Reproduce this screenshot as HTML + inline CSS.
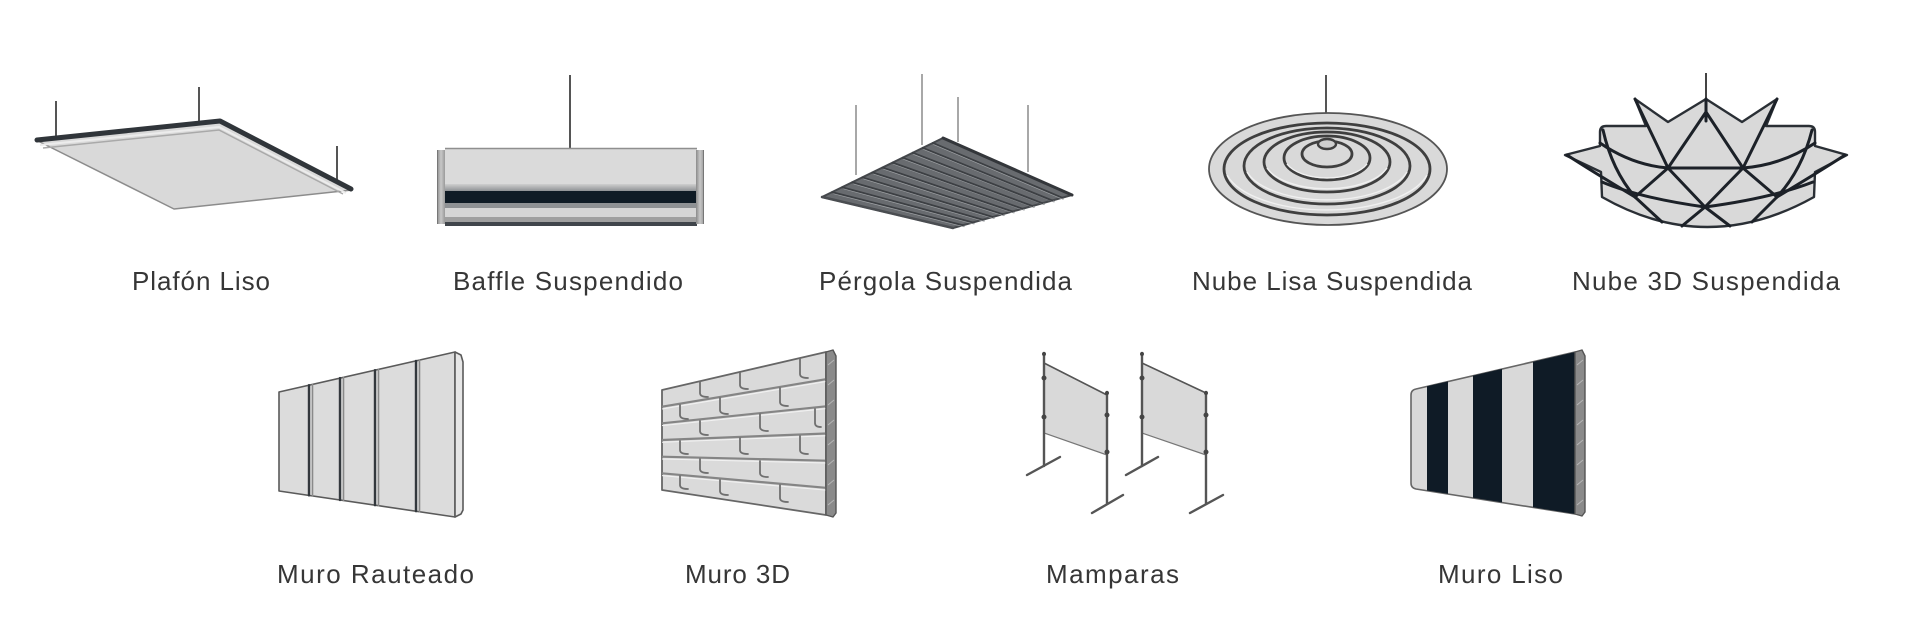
<!DOCTYPE html>
<html>
<head>
<meta charset="utf-8">
<style>
  html,body{margin:0;padding:0;background:#ffffff;}
  body{width:1920px;height:640px;overflow:hidden;}
  svg{display:block;}
  .lbl{font-family:"Liberation Sans",Arial,sans-serif;font-size:26px;fill:#363636;}
</style>
</head>
<body>
<svg width="1920" height="640" viewBox="0 0 1920 640" xmlns="http://www.w3.org/2000/svg">
  <defs>
    <linearGradient id="bafband" x1="0" y1="0" x2="0" y2="1">
      <stop offset="0" stop-color="#cfcfcf"/>
      <stop offset="1" stop-color="#8f9295"/>
    </linearGradient>
    <linearGradient id="capg" x1="0" y1="0" x2="1" y2="0">
      <stop offset="0" stop-color="#8a8a8a"/>
      <stop offset="0.5" stop-color="#c8c8c8"/>
      <stop offset="1" stop-color="#9a9a9a"/>
    </linearGradient>
  </defs>

  <!-- ============ Plafón Liso ============ -->
  <g>
    <line x1="56" y1="101" x2="56" y2="138" stroke="#555" stroke-width="2"/>
    <line x1="199" y1="87" x2="199" y2="124" stroke="#555" stroke-width="2"/>
    <line x1="337" y1="146" x2="337" y2="184" stroke="#555" stroke-width="2"/>
    <polygon points="36,140 220,121 352,190 174,209" fill="#d9d9d9" stroke="#8c8c8c" stroke-width="1.5" stroke-linejoin="round"/>
    <polyline points="43,148 219,130 343,194" fill="none" stroke="#a9a9a9" stroke-width="1.5"/>
    <polyline points="40,145 219,127 346,193" fill="none" stroke="#ececec" stroke-width="2"/>
    <polyline points="37,140 220,121 351,189" fill="none" stroke="#30353a" stroke-width="5" stroke-linejoin="round" stroke-linecap="round"/>
  </g>

  <!-- ============ Baffle Suspendido ============ -->
  <g>
    <line x1="570" y1="75" x2="570" y2="150" stroke="#555" stroke-width="2"/>
    <rect x="445" y="148" width="252" height="38" fill="#dadada"/>
    <line x1="445" y1="148.5" x2="697" y2="148.5" stroke="#8f8f8f" stroke-width="1.5"/>
    <rect x="445" y="184" width="252" height="7" fill="url(#bafband)"/>
    <rect x="445" y="191" width="252" height="12" fill="#0f1b25"/>
    <rect x="445" y="203" width="252" height="5" fill="#8e9194"/>
    <rect x="445" y="208" width="252" height="9" fill="#d6d6d6"/>
    <rect x="445" y="217" width="252" height="5" fill="#a0a0a0"/>
    <rect x="445" y="222" width="252" height="4" fill="#40454b"/>
    <rect x="437" y="150" width="8" height="74" fill="url(#capg)"/>
    <line x1="437.5" y1="150" x2="437.5" y2="224" stroke="#777" stroke-width="1"/>
    <rect x="696" y="150" width="8" height="74" fill="url(#capg)"/>
    <line x1="703.5" y1="150" x2="703.5" y2="224" stroke="#777" stroke-width="1"/>
  </g>

  <!-- ============ Pérgola Suspendida ============ -->
  <g>
    <line x1="856" y1="105" x2="856" y2="175" stroke="#7a7a7a" stroke-width="1.3"/>
    <line x1="922" y1="74" x2="922" y2="145" stroke="#7a7a7a" stroke-width="1.3"/>
    <line x1="958" y1="97" x2="958" y2="142" stroke="#7a7a7a" stroke-width="1.3"/>
    <line x1="1028" y1="105" x2="1028" y2="172" stroke="#7a7a7a" stroke-width="1.3"/>
    <polygon points="822,197 943,138 1072,195 953,228" fill="#686b6f" stroke="#45484c" stroke-width="2" stroke-linejoin="round"/>
    <g stroke-linecap="round">
      <g stroke="#9fa2a5" stroke-width="1.4">
        <line x1="834" y1="193.5" x2="964" y2="226.5"/>
        <line x1="844" y1="188.6" x2="974" y2="223.7"/>
        <line x1="854" y1="183.7" x2="984" y2="221"/>
        <line x1="864" y1="178.7" x2="994" y2="218.2"/>
        <line x1="874" y1="173.8" x2="1004" y2="215.4"/>
        <line x1="884" y1="168.9" x2="1014" y2="212.7"/>
        <line x1="894" y1="164" x2="1024" y2="209.9"/>
        <line x1="904" y1="159.1" x2="1034" y2="207.2"/>
        <line x1="914" y1="154.2" x2="1044" y2="204.4"/>
        <line x1="924" y1="149.2" x2="1054" y2="201.7"/>
        <line x1="934" y1="144.3" x2="1063" y2="199"/>
      </g>
      <g stroke="#3c3f43" stroke-width="1.8">
        <line x1="832.1" y1="192.1" x2="962.9" y2="225.2"/>
        <line x1="842.2" y1="187.2" x2="972.8" y2="222.5"/>
        <line x1="852.2" y1="182.2" x2="982.7" y2="219.7"/>
        <line x1="862.3" y1="177.3" x2="992.7" y2="217"/>
        <line x1="872.4" y1="172.4" x2="1002.6" y2="214.2"/>
        <line x1="882.5" y1="167.5" x2="1012.5" y2="211.5"/>
        <line x1="892.6" y1="162.6" x2="1022.4" y2="208.7"/>
        <line x1="902.7" y1="157.7" x2="1032.3" y2="206"/>
        <line x1="912.7" y1="152.7" x2="1042.2" y2="203.2"/>
        <line x1="922.8" y1="147.8" x2="1052.2" y2="200.5"/>
        <line x1="932.9" y1="142.9" x2="1062.1" y2="197.7"/>
      </g>
      <line x1="943" y1="138" x2="1072" y2="195" stroke="#33363a" stroke-width="3"/>
      <line x1="822" y1="197" x2="953" y2="228" stroke="#4a4d51" stroke-width="2.5"/>
    </g>
  </g>

  <!-- ============ Nube Lisa Suspendida ============ -->
  <g>
    <line x1="1326" y1="75" x2="1326" y2="114" stroke="#555" stroke-width="2"/>
    <ellipse cx="1328" cy="169" rx="119" ry="56" fill="#d9d9d9" stroke="#555" stroke-width="1.8"/>
    <g fill="none" stroke="#3f3f3f" stroke-width="2.8">
      <ellipse cx="1327" cy="169" rx="103" ry="46"/>
      <ellipse cx="1327" cy="166" rx="83" ry="38"/>
      <ellipse cx="1327" cy="162" rx="63" ry="30"/>
      <ellipse cx="1327" cy="158" rx="43" ry="22"/>
      <ellipse cx="1327" cy="154" rx="25" ry="13"/>
    </g>
    <g fill="none" stroke="#f0f0f0" stroke-width="1.4">
      <path d="M1227,175 A103,46 0 0 0 1427,175"/>
      <path d="M1247,172 A83,38 0 0 0 1407,172"/>
      <path d="M1267,168 A63,30 0 0 0 1387,168"/>
      <path d="M1287,164 A43,22 0 0 0 1367,164"/>
    </g>
    <ellipse cx="1327" cy="144" rx="9" ry="5" fill="#cfcfcf" stroke="#3f3f3f" stroke-width="2.4"/>
  </g>

  <!-- ============ Nube 3D Suspendida ============ -->
  <g>
    <line x1="1706" y1="73" x2="1706" y2="100" stroke="#444" stroke-width="2"/>
    <path d="M1706,99 L1742,122 L1777,99 L1766,126 L1809,126 Q1815,126 1815,132 L1815,146 L1847,155 L1815,172 L1814,197 Q1707,257 1602,197 L1601,172 L1565,155 L1600,146 L1600,132 Q1600,126 1606,126 L1646,126 L1635,99 L1668,122 Z"
          fill="#d9d9d9" stroke="#2a2f35" stroke-width="2.4" stroke-linejoin="round"/>
    <g fill="none" stroke="#1c2128" stroke-width="3" stroke-linecap="round" stroke-linejoin="round">
      <line x1="1706" y1="99" x2="1706" y2="121"/>
      <line x1="1706" y1="112" x2="1668" y2="168"/>
      <line x1="1706" y1="112" x2="1743" y2="168"/>
      <line x1="1635" y1="99" x2="1668" y2="168"/>
      <line x1="1777" y1="99" x2="1743" y2="168"/>
      <path d="M1600,143 Q1632,165 1668,168 L1743,168 Q1782,165 1815,143"/>
      <path d="M1603,130 Q1612,170 1635,197"/>
      <path d="M1812,130 Q1802,170 1777,197"/>
      <line x1="1668" y1="168" x2="1635" y2="197"/>
      <line x1="1668" y1="168" x2="1705" y2="207"/>
      <line x1="1743" y1="168" x2="1705" y2="207"/>
      <line x1="1743" y1="168" x2="1777" y2="197"/>
      <path d="M1602,182 Q1640,198 1705,207 Q1772,198 1813,182"/>
      <line x1="1635" y1="197" x2="1662" y2="222"/>
      <line x1="1705" y1="207" x2="1682" y2="226"/>
      <line x1="1705" y1="207" x2="1730" y2="226"/>
      <line x1="1777" y1="197" x2="1752" y2="222"/>
      <path d="M1567,155 Q1590,170 1635,197"/>
      <path d="M1845,155 Q1822,170 1777,197"/>
    </g>
  </g>

  <!-- ============ Muro Rauteado ============ -->
  <g>
    <polygon points="279,392 455,352 455,517 279,491" fill="#dcdcdc" stroke="#5a5a5a" stroke-width="1.6" stroke-linejoin="round"/>
    <polygon points="455,352 461,355 463,362 463,510 461,514 455,517" fill="#e6e6e6" stroke="#5a5a5a" stroke-width="1.6" stroke-linejoin="round"/>
    <g stroke-linecap="round">
      <line x1="309" y1="385.2" x2="309" y2="495.4" stroke="#33383d" stroke-width="2.4"/>
      <line x1="312.5" y1="384.4" x2="312.5" y2="495.9" stroke="#8a8a8a" stroke-width="1.6"/>
      <line x1="340" y1="378.1" x2="340" y2="500" stroke="#33383d" stroke-width="2.4"/>
      <line x1="343.5" y1="377.3" x2="343.5" y2="500.5" stroke="#8a8a8a" stroke-width="1.6"/>
      <line x1="375" y1="370.2" x2="375" y2="505.2" stroke="#33383d" stroke-width="2.4"/>
      <line x1="378.5" y1="369.4" x2="378.5" y2="505.7" stroke="#8a8a8a" stroke-width="1.6"/>
      <line x1="416" y1="360.9" x2="416" y2="511.2" stroke="#33383d" stroke-width="2.4"/>
      <line x1="419.5" y1="360.1" x2="419.5" y2="511.7" stroke="#8a8a8a" stroke-width="1.6"/>
    </g>
  </g>

  <!-- ============ Muro 3D ============ -->
  <g>
    <polygon points="662,390 826,352 826,515 662,490" fill="#dadada" stroke="#666" stroke-width="1.8" stroke-linejoin="round"/>
    <g stroke="#858585" stroke-width="2.2" fill="none">
      <line x1="662" y1="406.7" x2="826" y2="379.2"/>
      <line x1="662" y1="423.3" x2="826" y2="406.3"/>
      <line x1="662" y1="440" x2="826" y2="433.5"/>
      <line x1="662" y1="456.7" x2="826" y2="460.7"/>
      <line x1="662" y1="473.3" x2="826" y2="487.8"/>
    </g>
    <g stroke="#f2f2f2" stroke-width="1" fill="none">
      <line x1="662" y1="409" x2="826" y2="381.5"/>
      <line x1="662" y1="425.6" x2="826" y2="408.6"/>
      <line x1="662" y1="442.3" x2="826" y2="435.8"/>
      <line x1="662" y1="459" x2="826" y2="463"/>
      <line x1="662" y1="475.6" x2="826" y2="490.1"/>
    </g>
    <g stroke="#6f6f6f" stroke-width="1.8" fill="none" stroke-linecap="round">
      <path d="M740,373 L740,385 Q740,389 748,389"/>
      <path d="M800,359 L800,374 Q800,378 808,378"/>
      <path d="M700,382 L700,393 Q700,397 708,397"/>
      <path d="M680,405 L680,415 Q680,419 688,419"/>
      <path d="M720,398 L720,410 Q720,414 728,414"/>
      <path d="M780,388 L780,402 Q780,406 788,406"/>
      <path d="M700,421 L700,431 Q700,435 708,435"/>
      <path d="M760,414 L760,427 Q760,431 768,431"/>
      <path d="M815,409 L815,423 Q815,427 821,427"/>
      <path d="M680,441 L680,450 Q680,454 688,454"/>
      <path d="M740,438 L740,450 Q740,454 748,454"/>
      <path d="M800,436 L800,450 Q800,454 808,454"/>
      <path d="M700,459 L700,469 Q700,473 708,473"/>
      <path d="M760,461 L760,473 Q760,477 768,477"/>
      <path d="M680,476 L680,485 Q680,489 688,489"/>
      <path d="M720,480 L720,491 Q720,495 728,495"/>
      <path d="M780,485 L780,498 Q780,502 788,502"/>
    </g>
    <polygon points="826,352 833,350 836,356 836,513 833,517 826,515" fill="#8a8a8a" stroke="#555" stroke-width="1.4" stroke-linejoin="round"/>
    <g stroke="#b5b5b5" stroke-width="1">
      <line x1="828" y1="365" x2="834" y2="360"/>
      <line x1="828" y1="385" x2="834" y2="380"/>
      <line x1="828" y1="405" x2="834" y2="400"/>
      <line x1="828" y1="425" x2="834" y2="420"/>
      <line x1="828" y1="445" x2="834" y2="440"/>
      <line x1="828" y1="465" x2="834" y2="460"/>
      <line x1="828" y1="485" x2="834" y2="480"/>
      <line x1="828" y1="505" x2="834" y2="500"/>
    </g>
  </g>

  <!-- ============ Mamparas ============ -->
  <g>
    <polygon points="1044,363 1107,395 1107,455 1044,433" fill="#d9d9d9" stroke="#777" stroke-width="1.2"/>
    <line x1="1044" y1="363" x2="1107" y2="395" stroke="#555" stroke-width="1.6"/>
    <polygon points="1142,363 1206,393 1206,455 1142,433" fill="#d9d9d9" stroke="#777" stroke-width="1.2"/>
    <line x1="1142" y1="363" x2="1206" y2="393" stroke="#555" stroke-width="1.6"/>
    <g stroke="#555" stroke-width="2.4" stroke-linecap="round">
      <line x1="1044" y1="353" x2="1044" y2="466"/>
      <line x1="1107" y1="392" x2="1107" y2="504"/>
      <line x1="1142" y1="353" x2="1142" y2="466"/>
      <line x1="1206" y1="392" x2="1206" y2="504"/>
      <line x1="1027" y1="475" x2="1060" y2="457"/>
      <line x1="1092" y1="513" x2="1123" y2="495"/>
      <line x1="1126" y1="475" x2="1158" y2="457"/>
      <line x1="1190" y1="513" x2="1223" y2="495"/>
    </g>
    <g fill="#454545">
      <circle cx="1044" cy="354" r="2"/>
      <circle cx="1044" cy="378" r="2.5"/>
      <circle cx="1044" cy="417" r="2.5"/>
      <circle cx="1107" cy="393" r="2"/>
      <circle cx="1107" cy="415" r="2.5"/>
      <circle cx="1107" cy="452" r="2.5"/>
      <circle cx="1142" cy="354" r="2"/>
      <circle cx="1142" cy="378" r="2.5"/>
      <circle cx="1142" cy="417" r="2.5"/>
      <circle cx="1206" cy="393" r="2"/>
      <circle cx="1206" cy="415" r="2.5"/>
      <circle cx="1206" cy="452" r="2.5"/>
    </g>
  </g>

  <!-- ============ Muro Liso ============ -->
  <g>
    <path d="M1416,389 L1575,352 L1575,514 L1416,489 Q1411,488 1411,483 L1411,395 Q1411,390 1416,389 Z" fill="#d9d9d9" stroke="#666" stroke-width="1.6" stroke-linejoin="round"/>
    <polygon points="1427,386.3 1448,381.4 1448,493.9 1427,490.5" fill="#0f1b26"/>
    <polygon points="1473,375.6 1502,368.9 1502,502.4 1473,497.8" fill="#0f1b26"/>
    <polygon points="1533,361.7 1575,352 1575,514 1533,507.3" fill="#0f1b26"/>
    <polygon points="1575,352 1582,350 1585,356 1585,512 1582,516 1575,514" fill="#8a8a8a" stroke="#555" stroke-width="1.4" stroke-linejoin="round"/>
    <g stroke="#b5b5b5" stroke-width="1">
      <line x1="1577" y1="365" x2="1583" y2="360"/>
      <line x1="1577" y1="385" x2="1583" y2="380"/>
      <line x1="1577" y1="405" x2="1583" y2="400"/>
      <line x1="1577" y1="425" x2="1583" y2="420"/>
      <line x1="1577" y1="445" x2="1583" y2="440"/>
      <line x1="1577" y1="465" x2="1583" y2="460"/>
      <line x1="1577" y1="485" x2="1583" y2="480"/>
      <line x1="1577" y1="505" x2="1583" y2="500"/>
    </g>
  </g>

  <!-- ============ Labels ============ -->
  <text class="lbl" x="132" y="290" textLength="138" lengthAdjust="spacing">Plafón Liso</text>
  <text class="lbl" x="453" y="290" textLength="230" lengthAdjust="spacing">Baffle Suspendido</text>
  <text class="lbl" x="819" y="290" textLength="253" lengthAdjust="spacing">Pérgola Suspendida</text>
  <text class="lbl" x="1192" y="290" textLength="280" lengthAdjust="spacing">Nube Lisa Suspendida</text>
  <text class="lbl" x="1572" y="290" textLength="268" lengthAdjust="spacing">Nube 3D Suspendida</text>

  <text class="lbl" x="277" y="583" textLength="197" lengthAdjust="spacing">Muro Rauteado</text>
  <text class="lbl" x="685" y="583" textLength="105" lengthAdjust="spacing">Muro 3D</text>
  <text class="lbl" x="1046" y="583" textLength="133" lengthAdjust="spacing">Mamparas</text>
  <text class="lbl" x="1438" y="583" textLength="125" lengthAdjust="spacing">Muro Liso</text>
</svg>
</body>
</html>
